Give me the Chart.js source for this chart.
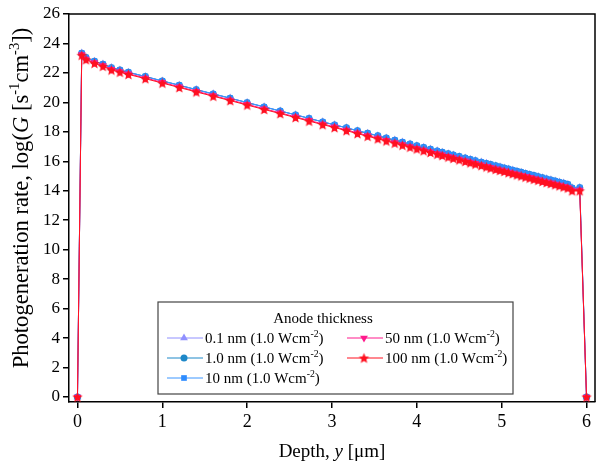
<!DOCTYPE html>
<html>
<head>
<meta charset="utf-8">
<script src="https://cdn.jsdelivr.net/npm/chart.js@4.4.1/dist/chart.umd.min.js"></script>
<style>
  html, body { margin: 0; padding: 0; background: #fff; }
</style>
</head>
<body>
<canvas id="c" width="600" height="468"></canvas>
<script>
// depth positions (um), shared by every series
var depth = [0, 0.05, 0.1, 0.2, 0.3, 0.4, 0.5, 0.6, 0.8, 1.0, 1.2, 1.4, 1.6, 1.8, 2.0,
  2.2, 2.39, 2.57, 2.73, 2.89, 3.03, 3.17, 3.3, 3.42, 3.54, 3.64, 3.74, 3.83, 3.92, 4.0,
  4.08, 4.16, 4.24, 4.3, 4.37, 4.43, 4.5, 4.57, 4.63, 4.69, 4.76, 4.82, 4.87, 4.93, 4.98,
  5.03, 5.08, 5.13, 5.18, 5.23, 5.28, 5.33, 5.38, 5.43, 5.48, 5.53, 5.58, 5.63, 5.68, 5.73,
  5.78, 5.83, 5.92, 6.0];

// log(G) per anode thickness
var g01nm = [0, 23.35, 23.05, 22.8, 22.6, 22.36, 22.2, 22.05, 21.76, 21.46, 21.17, 20.87, 20.58, 20.29, 19.99,
  19.7, 19.42, 19.16, 18.92, 18.68, 18.48, 18.28, 18.08, 17.91, 17.74, 17.59, 17.44, 17.31, 17.18, 17.06,
  16.95, 16.83, 16.71, 16.62, 16.52, 16.43, 16.33, 16.23, 16.14, 16.05, 15.95, 15.86, 15.79, 15.7, 15.63,
  15.55, 15.48, 15.41, 15.33, 15.26, 15.18, 15.11, 15.04, 14.96, 14.89, 14.81, 14.74, 14.67, 14.59, 14.52,
  14.44, 14.2, 14.22, 0];
var g1nm = [0, 23.34, 23.04, 22.79, 22.59, 22.35, 22.19, 22.04, 21.75, 21.45, 21.16, 20.86, 20.57, 20.28, 19.98,
  19.69, 19.41, 19.15, 18.91, 18.67, 18.47, 18.27, 18.07, 17.9, 17.73, 17.58, 17.43, 17.3, 17.17, 17.05,
  16.94, 16.82, 16.7, 16.61, 16.51, 16.42, 16.32, 16.22, 16.13, 16.04, 15.94, 15.85, 15.78, 15.69, 15.62,
  15.54, 15.47, 15.4, 15.32, 15.25, 15.17, 15.1, 15.03, 14.95, 14.88, 14.8, 14.73, 14.66, 14.58, 14.51,
  14.43, 14.19, 14.21, 0];
var g10nm = [0, 23.35, 23.05, 22.8, 22.6, 22.36, 22.2, 22.05, 21.76, 21.46, 21.17, 20.87, 20.58, 20.29, 19.99,
  19.7, 19.42, 19.16, 18.92, 18.68, 18.48, 18.28, 18.08, 17.91, 17.74, 17.59, 17.44, 17.31, 17.18, 17.06,
  16.95, 16.83, 16.71, 16.62, 16.52, 16.43, 16.33, 16.23, 16.14, 16.05, 15.95, 15.86, 15.79, 15.7, 15.63,
  15.55, 15.48, 15.41, 15.33, 15.26, 15.18, 15.11, 15.04, 14.96, 14.89, 14.81, 14.74, 14.67, 14.59, 14.52,
  14.44, 14.2, 14.22, 0];
var g50nm = [0, 23.25, 22.95, 22.7, 22.5, 22.25, 22.1, 21.95, 21.66, 21.36, 21.06, 20.76, 20.47, 20.17, 19.87,
  19.57, 19.29, 19.02, 18.78, 18.54, 18.34, 18.13, 17.93, 17.75, 17.58, 17.43, 17.28, 17.14, 17.01, 16.89,
  16.77, 16.65, 16.53, 16.44, 16.34, 16.25, 16.15, 16.04, 15.95, 15.86, 15.76, 15.67, 15.59, 15.5, 15.43,
  15.36, 15.28, 15.21, 15.13, 15.06, 14.98, 14.91, 14.83, 14.76, 14.68, 14.61, 14.54, 14.46, 14.39, 14.31,
  14.24, 14.05, 14.05, 0];
var g100nm = [0, 23.2, 22.9, 22.65, 22.45, 22.2, 22.05, 21.9, 21.61, 21.31, 21.01, 20.71, 20.42, 20.12, 19.82,
  19.52, 19.24, 18.97, 18.73, 18.49, 18.29, 18.08, 17.88, 17.7, 17.53, 17.38, 17.23, 17.09, 16.96, 16.84,
  16.72, 16.6, 16.48, 16.39, 16.29, 16.2, 16.1, 15.99, 15.9, 15.81, 15.71, 15.62, 15.54, 15.45, 15.38,
  15.31, 15.23, 15.16, 15.08, 15.01, 14.93, 14.86, 14.78, 14.71, 14.63, 14.56, 14.49, 14.41, 14.34, 14.26,
  14.19, 14.0, 14.0, 0];

var seriesNames = ['0.1 nm', '1.0 nm', '10 nm', '50 nm', '100 nm'];
var xTicks = [0, 1, 2, 3, 4, 5, 6];
var yTicks = [0, 2, 4, 6, 8, 10, 12, 14, 16, 18, 20, 22, 24, 26];

var FONT = '"Liberation Serif", "Times New Roman", serif';

// filled five point star used as the 100 nm marker
function starCanvas(color, r) {
  var c = document.createElement('canvas');
  c.width = c.height = Math.ceil(r * 2 + 2);
  var g = c.getContext('2d');
  var cx = c.width / 2, cy = c.height / 2 + 0.5;
  g.beginPath();
  for (var i = 0; i < 10; i++) {
    var rr = i % 2 ? r * 0.45 : r;
    var ang = -Math.PI / 2 + i * Math.PI / 5;
    g.lineTo(cx + rr * Math.cos(ang), cy + rr * Math.sin(ang));
  }
  g.closePath();
  g.fillStyle = color;
  g.fill();
  return c;
}

var starRed = starCanvas('#ff1020', 5.5);

function pts(ys) {
  return depth.map(function (x, i) { return { x: x, y: ys[i] }; });
}

var datasets = [
  { label: seriesNames[0], data: pts(g01nm), borderColor: '#9090ff', backgroundColor: '#9090ff', pointStyle: 'triangle', pointRadius: 4.5, order: 5 },
  { label: seriesNames[1], data: pts(g1nm), borderColor: '#1e88c8', backgroundColor: '#1e88c8', pointStyle: 'circle', pointRadius: 3.5, order: 4 },
  { label: seriesNames[2], data: pts(g10nm), borderColor: '#3d96ff', backgroundColor: '#2e8cff', pointStyle: 'rect', pointRadius: 4, order: 3 },
  { label: seriesNames[3], data: pts(g50nm), borderColor: '#ff1a8c', backgroundColor: '#ff1a8c', pointStyle: 'triangle', rotation: 180, pointRotation: 180, pointRadius: 4.5, order: 2 },
  { label: seriesNames[4], data: pts(g100nm), borderColor: '#ff1020', backgroundColor: '#ff1020', pointStyle: starRed, pointRadius: 5, order: 1 }
];
datasets.forEach(function (d) {
  d.borderWidth = 1;
  d.pointBorderWidth = 0;
  d.pointBorderColor = d.backgroundColor;
  d.pointBackgroundColor = d.backgroundColor;
  d.showLine = true;
  d.clip = false;
});

// text with italic / superscript runs
function drawRuns(ctx, runs, cx, base, size) {
  function font(r) {
    return (r.it ? 'italic ' : '') + (r.sup ? size * 0.65 : size) + 'px ' + FONT;
  }
  var total = 0;
  runs.forEach(function (r) { ctx.font = font(r); total += ctx.measureText(r.t).width; });
  var x = cx - total / 2;
  ctx.textAlign = 'left';
  ctx.textBaseline = 'alphabetic';
  runs.forEach(function (r) {
    ctx.font = font(r);
    ctx.fillText(r.t, x, r.sup ? base - size * 0.38 : base);
    x += ctx.measureText(r.t).width;
  });
  return total;
}

var xTitle = [{ t: 'Depth, ' }, { t: 'y', it: true }, { t: ' [\u03bcm]' }];
var yTitle = [{ t: 'Photogeneration rate, log(' }, { t: 'G', it: true }, { t: ' [s' }, { t: '-1', sup: true },
  { t: 'cm' }, { t: '-3', sup: true }, { t: '])' }];

var legendCols = [[0, 1, 2], [3, 4]];

var decor = {
  id: 'decor',
  afterDraw: function (chart) {
    var ctx = chart.ctx, a = chart.chartArea;
    ctx.save();
    ctx.strokeStyle = '#000';
    ctx.lineWidth = 1.5;
    ctx.beginPath();
    ctx.moveTo(a.left, a.top);
    ctx.lineTo(a.right, a.top);
    ctx.lineTo(a.right, a.bottom);
    ctx.stroke();

    ctx.fillStyle = '#000';
    drawRuns(ctx, xTitle, (a.left + a.right) / 2, 457, 19);
    ctx.save();
    ctx.translate(28, 198);
    ctx.rotate(-Math.PI / 2);
    drawRuns(ctx, yTitle, 0, 0, 22.6);
    ctx.restore();

    // legend box
    ctx.fillStyle = '#fff';
    ctx.fillRect(158, 302, 355, 92);
    ctx.strokeStyle = '#444';
    ctx.lineWidth = 1.2;
    ctx.strokeRect(158, 302, 355, 92);
    ctx.fillStyle = '#000';
    drawRuns(ctx, [{ t: 'Anode thickness' }], 323, 323, 15);

    var colX = [167, 347];
    legendCols.forEach(function (col, ci) {
      col.forEach(function (di, ri) {
        var d = datasets[di];
        var y = 338 + ri * 20;
        var x0 = colX[ci];
        ctx.strokeStyle = d.borderColor;
        ctx.lineWidth = 1;
        ctx.beginPath();
        ctx.moveTo(x0, y);
        ctx.lineTo(x0 + 36, y);
        ctx.stroke();
        ctx.fillStyle = d.backgroundColor;
        ctx.strokeStyle = d.backgroundColor;
        Chart.helpers.drawPoint(ctx, {
          pointStyle: d.pointStyle, radius: d.pointRadius, rotation: d.pointRotation || 0, borderWidth: 0
        }, x0 + 17, y);
        ctx.fillStyle = '#000';
        var runs = [{ t: d.label + ' (1.0 Wcm' }, { t: '-2', sup: true }, { t: ')' }];
        var w = 0;
        runs.forEach(function (r) { ctx.font = (r.sup ? 15 * 0.65 : 15) + 'px ' + FONT; w += ctx.measureText(r.t).width; });
        drawRuns(ctx, runs, x0 + 38 + w / 2, y + 5, 15);
      });
    });
    ctx.restore();
  }
};

new Chart(document.getElementById('c'), {
  type: 'scatter',
  data: { datasets: datasets },
  options: {
    responsive: false,
    animation: false,
    devicePixelRatio: 1,
    layout: { padding: { top: 14, right: 1, left: 0, bottom: 0 } },
    plugins: { legend: { display: false }, tooltip: { enabled: false } },
    scales: {
      x: {
        type: 'linear',
        min: -0.1,
        max: 6.1,
        afterBuildTicks: function (s) { s.ticks = xTicks.map(function (v) { return { value: v }; }); },
        afterFit: function (s) { s.height = 66; },
        grid: { drawOnChartArea: false, drawTicks: true, tickLength: 6, color: '#000', lineWidth: 1.5 },
        border: { display: true, color: '#000', width: 1.5 },
        ticks: { color: '#000', font: { family: FONT, size: 18 }, padding: 3, maxRotation: 0, autoSkip: false }
      },
      y: {
        type: 'linear',
        min: -0.34,
        max: 26,
        afterBuildTicks: function (s) { s.ticks = yTicks.map(function (v) { return { value: v }; }); },
        afterFit: function (s) { s.width = 69; },
        grid: { drawOnChartArea: false, drawTicks: true, tickLength: 6, color: '#000', lineWidth: 1.5 },
        border: { display: true, color: '#000', width: 1.5 },
        ticks: { color: '#000', font: { family: FONT, size: 17 }, padding: 3, autoSkip: false }
      }
    }
  },
  plugins: [decor]
});
</script>
</body>
</html>
